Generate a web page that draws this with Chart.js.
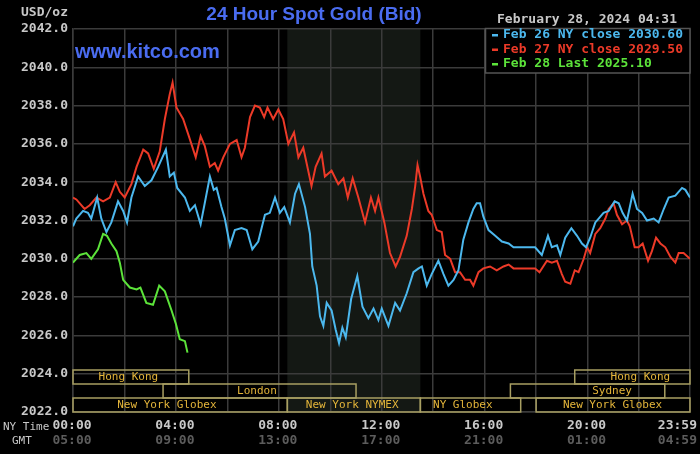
<!DOCTYPE html>
<html>
<head>
<meta charset="utf-8">
<script src="https://cdn.jsdelivr.net/npm/chart.js@4.4.1/dist/chart.umd.min.js"></script>
<style>
  html, body { margin: 0; padding: 0; background: #000; }
  #wrap { width: 700px; height: 454px; }
</style>
</head>
<body>
<div id="wrap"><canvas id="gold" width="700" height="454"></canvas></div>
<script>
// hours since 00:00 NY time, and bid price
const feb26Hours = [0.00,0.13,0.39,0.58,0.71,0.94,1.10,1.30,1.49,1.75,
  1.95,2.10,2.27,2.53,2.79,3.05,3.31,3.61,3.76,3.92,
  4.05,4.35,4.54,4.74,4.96,5.12,5.32,5.47,5.58,5.77,
  5.90,6.10,6.29,6.55,6.75,6.97,7.20,7.46,7.65,7.85,
  8.04,8.21,8.43,8.63,8.78,9.02,9.21,9.30,9.47,9.60,
  9.73,9.86,10.05,10.21,10.34,10.47,10.60,10.81,11.05,11.25,
  11.48,11.68,11.87,12.00,12.26,12.52,12.71,12.97,13.23,13.43,
  13.56,13.75,13.94,14.20,14.40,14.59,14.79,14.98,15.17,15.37,
  15.56,15.69,15.82,15.95,16.15,16.41,16.67,16.93,17.12,17.51,
  17.96,18.22,18.46,18.61,18.81,18.94,19.13,19.37,19.59,19.78,
  19.94,20.10,20.30,20.43,20.62,20.82,21.05,21.21,21.36,21.53,
  21.75,21.92,22.12,22.31,22.57,22.76,22.96,23.15,23.41,23.67,
  23.80,23.98]
const feb26Prices = [2031.7,2032.1,2032.5,2032.4,2032.1,2033.2,2032.1,2031.4,2031.9,2033.0,
  2032.5,2031.9,2033.2,2034.3,2033.8,2034.1,2034.8,2035.7,2034.3,2034.5,
  2033.7,2033.2,2032.5,2032.8,2031.8,2032.9,2034.3,2033.6,2033.7,2032.7,
  2032.1,2030.7,2031.5,2031.6,2031.5,2030.5,2030.9,2032.3,2032.4,2033.2,
  2032.4,2032.7,2031.9,2033.4,2033.9,2032.7,2031.3,2029.6,2028.6,2027.0,
  2026.5,2027.7,2027.3,2026.3,2025.6,2026.4,2025.9,2027.9,2029.1,2027.5,
  2026.9,2027.4,2026.8,2027.4,2026.5,2027.7,2027.3,2028.2,2029.3,2029.5,
  2029.6,2028.6,2029.2,2029.9,2029.2,2028.6,2028.9,2029.4,2031.0,2031.9,
  2032.6,2032.9,2032.9,2032.2,2031.5,2031.2,2030.9,2030.8,2030.6,2030.6,
  2030.6,2030.2,2031.2,2030.6,2030.7,2030.2,2031.1,2031.6,2031.2,2030.8,
  2030.6,2031.1,2031.9,2032.1,2032.4,2032.5,2033.0,2032.9,2032.4,2032.0,
  2033.4,2032.6,2032.4,2032.0,2032.1,2031.9,2032.6,2033.2,2033.3,2033.7,
  2033.6,2033.2]

const feb27Hours = [0.00,0.13,0.45,0.65,0.91,1.17,1.43,1.66,1.82,2.01,
  2.27,2.47,2.73,2.92,3.14,3.37,3.57,3.76,3.87,4.02,
  4.28,4.48,4.77,4.96,5.12,5.32,5.51,5.64,5.84,6.10,
  6.36,6.55,6.68,6.88,7.07,7.26,7.43,7.56,7.78,7.98,
  8.17,8.37,8.59,8.76,8.95,9.27,9.43,9.66,9.79,10.05,
  10.31,10.51,10.68,10.87,11.09,11.35,11.58,11.74,11.87,12.10,
  12.32,12.54,12.71,12.97,13.17,13.30,13.39,13.49,13.62,13.81,
  13.94,14.14,14.33,14.46,14.66,14.85,15.04,15.24,15.43,15.56,
  15.76,15.95,16.21,16.47,16.73,16.93,17.12,17.51,17.96,18.13,
  18.42,18.61,18.81,19.00,19.13,19.33,19.50,19.65,19.85,19.98,
  20.10,20.30,20.49,20.69,20.82,21.01,21.14,21.34,21.53,21.64,
  21.83,21.98,22.14,22.35,22.50,22.66,22.83,23.02,23.22,23.41,
  23.54,23.73,23.98]
const feb27Prices = [2033.2,2033.1,2032.6,2032.8,2033.2,2033.0,2033.2,2034.0,2033.5,2033.2,
  2033.9,2034.8,2035.7,2035.5,2034.7,2035.6,2037.3,2038.6,2039.2,2037.9,
  2037.3,2036.5,2035.3,2036.4,2035.9,2034.8,2035.0,2034.6,2035.3,2036.0,
  2036.2,2035.3,2035.8,2037.4,2038.0,2037.9,2037.4,2037.9,2037.3,2037.8,
  2037.3,2036.0,2036.6,2035.3,2035.8,2033.8,2034.8,2035.5,2034.3,2034.6,
  2033.9,2034.2,2033.2,2034.2,2033.2,2031.9,2033.2,2032.5,2033.2,2031.9,
  2030.3,2029.6,2030.1,2031.2,2032.6,2033.8,2034.9,2034.3,2033.4,2032.5,
  2032.3,2031.5,2031.4,2030.2,2030.0,2029.3,2029.3,2028.9,2028.9,2028.6,
  2029.3,2029.5,2029.6,2029.4,2029.6,2029.7,2029.5,2029.5,2029.5,2029.3,
  2029.9,2029.8,2029.9,2029.2,2028.8,2028.7,2029.4,2029.3,2030.0,2030.6,
  2030.3,2031.3,2031.6,2032.1,2032.6,2032.9,2032.3,2031.8,2032.0,2031.7,
  2030.6,2030.6,2030.8,2029.9,2030.4,2031.1,2030.8,2030.6,2030.1,2029.8,
  2030.3,2030.3,2030.0]

const feb28Hours = [0.00,0.26,0.52,0.71,0.97,1.17,1.32,1.49,1.69,1.82,
  1.95,2.21,2.47,2.62,2.85,3.11,3.35,3.57,3.83,4.00,
  4.15,4.35,4.45]
const feb28Prices = [2029.8,2030.2,2030.3,2030.0,2030.5,2031.3,2031.2,2030.8,2030.4,2029.8,
  2028.9,2028.5,2028.4,2028.5,2027.7,2027.6,2028.6,2028.3,2027.3,2026.6,
  2025.8,2025.7,2025.1]

const legendLabels = ['Feb 26 NY close 2030.60', 'Feb 27 NY close 2029.50', 'Feb 28 Last 2025.10']
const seriesColors = ['#4cb8ee', '#ec3a28', '#5ce33a']

const gridHours = [0, 2, 4, 6, 8, 10, 12, 14, 16, 18, 20, 22, 23.98]
const labelHours = [0, 4, 8, 12, 16, 20, 23.98]
const nyLabels = ['00:00', '04:00', '08:00', '12:00', '16:00', '20:00', '23:59']
const gmtLabels = ['05:00', '09:00', '13:00', '17:00', '21:00', '01:00', '04:59']

// trading sessions along the bottom (row 0 is the top row)
const sessionNames = ['Hong Kong', 'Hong Kong', 'London', 'Sydney', 'New York Globex', 'New York NYMEX', 'NY Globex', 'New York Globex']
const sessionRows = [0, 0, 1, 1, 2, 2, 2, 2]
const sessionStart = [0, 19.5, 3.5, 17, 0, 8.33, 13.5, 18]
const sessionEnd = [4.5, 23.98, 11, 23, 8.33, 13.5, 17.4, 23.98]
const sessionLabelAt = [2.15, 22.05, 7.15, 20.95, 3.65, 10.85, 15.15, 20.97]
const nymexStart = 8.33
const nymexEnd = 13.5

const MONO = '"DejaVu Sans Mono", monospace'
const SANS = '"Liberation Sans", Arial, sans-serif'
const gridColor = '#3b3b3b'

const toPoints = (hours, prices) => hours.map((h, i) => ({ x: h, y: prices[i] }))

const backdrop = {
  id: 'backdrop',
  beforeDraw(chart) {
    const { ctx, chartArea, scales } = chart
    ctx.save()
    ctx.fillStyle = '#000'
    ctx.fillRect(0, 0, chart.width, chart.height)
    const x0 = scales.x.getPixelForValue(nymexStart)
    const x1 = scales.x.getPixelForValue(nymexEnd)
    ctx.fillStyle = '#141814'
    ctx.fillRect(x0, chartArea.top, x1 - x0, chartArea.bottom - chartArea.top)
    ctx.restore()
  }
}

const overlay = {
  id: 'overlay',
  afterDraw(chart) {
    const { ctx, chartArea, scales } = chart
    const x = scales.x
    ctx.save()
    ctx.textBaseline = 'middle'

    // session boxes
    const rowH = 14
    ctx.font = '11px ' + MONO
    ctx.lineWidth = 1.5
    sessionNames.forEach((name, i) => {
      const top = chartArea.bottom - (3 - sessionRows[i]) * rowH
      const left = x.getPixelForValue(sessionStart[i])
      const right = x.getPixelForValue(sessionEnd[i])
      ctx.strokeStyle = '#a89f62'
      ctx.strokeRect(left, top, right - left, rowH)
      ctx.fillStyle = '#e4b53a'
      ctx.textAlign = 'center'
      ctx.fillText(name, x.getPixelForValue(sessionLabelAt[i]), top + rowH / 2 + 0.5)
    })

    // titles
    ctx.fillStyle = '#4a6cf0'
    ctx.font = 'bold 19px ' + SANS
    ctx.textAlign = 'center'
    ctx.fillText('24 Hour Spot Gold (Bid)', 314, 15)
    ctx.font = 'bold 20px ' + SANS
    ctx.textAlign = 'left'
    ctx.fillText('www.kitco.com', 75, 52)

    ctx.fillStyle = '#c8c8c8'
    ctx.font = 'bold 13px ' + MONO
    ctx.textAlign = 'right'
    ctx.fillText('USD/oz', 68, 13)
    ctx.textAlign = 'left'
    ctx.fillText('February 28, 2024 04:31', 497, 20)

    // legend box
    ctx.fillStyle = '#000'
    ctx.fillRect(485, 28, 205, 45)
    ctx.strokeStyle = '#555'
    ctx.lineWidth = 1.5
    ctx.strokeRect(485.5, 28.5, 204.5, 44.5)
    legendLabels.forEach((txt, i) => {
      const yy = 35 + i * 14.5
      ctx.fillStyle = seriesColors[i]
      ctx.fillRect(492, yy - 1, 6, 2.5)
      ctx.fillText(txt, 503, yy)
    })

    // time axis labels
    ctx.font = '11px ' + MONO
    ctx.fillStyle = '#c8c8c8'
    ctx.textAlign = 'left'
    ctx.fillText('NY Time', 3, 427)
    ctx.fillText('GMT', 12, 441)
    ctx.font = 'bold 13px ' + MONO
    ctx.textAlign = 'center'
    labelHours.forEach((h, i) => {
      let cx = x.getPixelForValue(h) - 1
      const w = ctx.measureText(nyLabels[i]).width
      cx = Math.min(cx, chart.width - 3 - w / 2)
      ctx.fillStyle = '#c8c8c8'
      ctx.fillText(nyLabels[i], cx, 426)
      ctx.fillStyle = '#5c5c5c'
      ctx.fillText(gmtLabels[i], cx, 441)
    })
    ctx.restore()
  }
}

const lineStyle = (color) => ({ borderColor: color, borderWidth: 2, pointRadius: 0, tension: 0, fill: false })

new Chart(document.getElementById('gold'), {
  type: 'line',
  data: {
    datasets: [
      { label: 'Feb 26', data: toPoints(feb26Hours, feb26Prices), ...lineStyle(seriesColors[0]) },
      { label: 'Feb 27', data: toPoints(feb27Hours, feb27Prices), ...lineStyle(seriesColors[1]) },
      { label: 'Feb 28', data: toPoints(feb28Hours, feb28Prices), ...lineStyle(seriesColors[2]) }
    ]
  },
  options: {
    responsive: false,
    animation: false,
    devicePixelRatio: 1,
    layout: { padding: { top: 29, right: 10, bottom: 42, left: 0 } },
    plugins: { legend: { display: false }, tooltip: { enabled: false } },
    scales: {
      x: {
        type: 'linear',
        min: 0,
        max: 23.98,
        grid: { color: gridColor, lineWidth: 1.5, drawTicks: false },
        border: { color: gridColor, width: 1.5 },
        ticks: { display: false },
        afterBuildTicks: (s) => { s.ticks = gridHours.map(v => ({ value: v })) }
      },
      y: {
        min: 2022,
        max: 2042,
        grid: { color: gridColor, lineWidth: 1.5, drawTicks: false },
        border: { color: gridColor, width: 1.5 },
        ticks: {
          stepSize: 2,
          padding: 5,
          color: '#c8c8c8',
          font: { family: MONO, size: 13, weight: 'bold' },
          callback: (v) => v.toFixed(1)
        },
        afterFit: (s) => { s.width = 73 }
      }
    }
  },
  plugins: [backdrop, overlay]
})
</script>
</body>
</html>
